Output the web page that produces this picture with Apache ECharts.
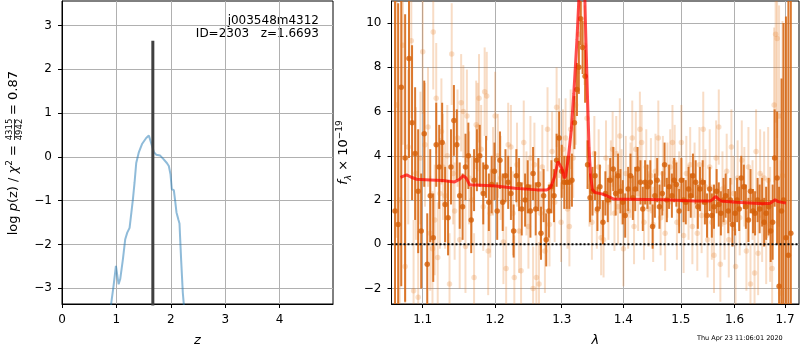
<!DOCTYPE html>
<html>
<head>
<meta charset="utf-8">
<script src="https://cdn.jsdelivr.net/npm/echarts@6/dist/echarts.min.js"></script>
<style>
html,body{margin:0;padding:0;background:#fff}
#chart{width:800px;height:350px}
</style>
</head>
<body>
<div id="chart"></div>
<script>
// redshift panel
var zTicks = [0, 1, 2, 3, 4];
var logpTicks = [-3, -2, -1, 0, 1, 2, 3];
var pzCurve = [
    [0.88, -3.7], [0.905, -3.34], [0.948, -2.94], [0.991, -2.49], [1.040, -2.91], [1.070, -2.79],
    [1.119, -2.34], [1.162, -1.88], [1.199, -1.73], [1.242, -1.62], [1.303, -0.97], [1.333, -0.59],
    [1.364, -0.14], [1.413, 0.11], [1.474, 0.30], [1.547, 0.43], [1.596, 0.49], [1.627, 0.47],
    [1.657, 0.24], [1.688, 0.11], [1.731, 0.05], [1.804, 0.03], [1.865, -0.05], [1.927, -0.14],
    [1.963, -0.21], [1.994, -0.40], [2.018, -0.74], [2.055, -0.76], [2.080, -1.01], [2.104, -1.27],
    [2.141, -1.44], [2.159, -1.52], [2.190, -2.37], [2.220, -3.10], [2.245, -3.47], [2.26, -3.8]
];
var zBest = 1.6693;
var zBestTop = 2.65;

// spectrum panel
var lamTicks = [1.1, 1.2, 1.3, 1.4, 1.5, 1.6, 1.7];
var fluxTicks = [-2, 0, 2, 4, 6, 8, 10];
// [lambda, flux, error]
var darkSpec = [
    [1.064,1.5,12],[1.068,0.9,10],[1.072,7.1,9],[1.077,3.9,6.5],[1.082,8.4,4.5],[1.086,5.5,3.5],
    [1.090,4.1,3],[1.094,2.4,2.8],[1.098,0.6,2.6],[1.102,5.0,2.4],[1.106,-0.9,2.3],[1.110,2.2,2.1],
    [1.114,0.3,2.0],[1.118,4.5,1.9],[1.122,3.5,1.9],[1.126,4.6,1.8],[1.130,1.8,1.7],[1.134,1.2,1.7],
    [1.138,3.5,1.7],[1.142,5.6,1.6],[1.146,4.5,1.6],[1.150,2.2,1.5],[1.154,1.7,1.5],[1.158,3.5,1.5],
    [1.162,4.0,1.5],[1.166,1.1,1.5],[1.170,2.9,1.4],[1.174,3.8,1.4],[1.178,4.0,1.4],[1.183,2.3,1.4],
    [1.187,3.5,1.4],[1.191,1.9,1.3],[1.195,2.7,1.3],[1.199,3.3,1.3],[1.203,1.5,1.3],[1.207,3.8,1.3],
    [1.211,1.9,1.3],[1.215,3.1,1.2],[1.219,2.8,1.2],[1.223,2.3,1.2],[1.227,0.6,1.2],[1.231,3.1,1.2],
    [1.235,2.7,1.2],[1.239,1.6,1.2],[1.244,2.0,1.2],[1.248,2.6,1.2],[1.252,1.5,1.2],[1.256,3.2,1.2],
    [1.260,1.6,1.2],[1.264,2.7,1.2],[1.268,0.5,1.2],[1.272,2.2,1.2],[1.276,0.2,1.2],[1.280,1.5,1.2],
    [1.284,2.6,1.2],[1.288,2.2,1.2],[1.292,3.8,1.2],[1.296,4.8,1.2],[1.300,3.3,1.2],[1.304,2.8,1.2],
    [1.308,2.8,1.2],[1.312,2.8,1.2],[1.316,2.9,1.2],[1.320,5.5,1.2],[1.324,7.0,1.2],[1.327,8.0,1.2],
    [1.330,10.2,1.2],[1.333,8.9,1.2],[1.337,7.6,1.2],[1.341,3.6,1.1],[1.345,2.1,1.1],[1.349,2.4,1.1],
    [1.353,3.1,1.1],[1.357,1.6,1.0],[1.361,2.6,1.0],[1.366,1.0,1.0],[1.370,2.3,1.0],[1.374,2.0,1.0],
    [1.378,2.9,1.0],[1.383,3.4,1.0],[1.387,2.3,1.0],[1.391,3.1,1.0],[1.395,2.4,1.0],[1.399,1.9,1.0],
    [1.403,1.3,1.0],[1.408,2.5,1.0],[1.412,3.1,1.0],[1.416,2.1,1.0],[1.420,2.5,1.0],[1.424,3.4,1.0],
    [1.429,2.8,1.0],[1.433,1.6,1.0],[1.437,2.8,1.0],[1.441,2.6,1.0],[1.446,2.8,1.0],[1.450,0.8,1.0],
    [1.454,2.2,1.0],[1.458,2.9,1.0],[1.462,1.7,1.0],[1.467,2.3,1.0],[1.471,3.6,1.0],[1.475,2.0,1.0],
    [1.479,2.6,1.0],[1.484,2.2,1.0],[1.488,2.9,1.0],[1.492,2.7,1.0],[1.497,1.5,1.0],[1.501,2.9,1.0],
    [1.505,2.0,1.0],[1.509,1.9,1.0],[1.514,2.5,1.0],[1.518,2.2,1.0],[1.522,3.1,1.0],[1.527,2.8,1.0],
    [1.531,1.7,1.0],[1.535,2.5,1.0],[1.540,2.8,1.0],[1.544,1.9,1.0],[1.548,1.3,1.0],[1.553,2.5,1.0],
    [1.557,1.3,1.0],[1.561,1.7,1.0],[1.566,2.4,1.0],[1.570,1.8,1.0],[1.574,1.4,1.0],[1.579,2.0,1.0],
    [1.583,2.2,1.0],[1.588,1.5,1.0],[1.592,2.0,1.0],[1.596,0.9,1.0],[1.601,1.4,1.0],[1.605,2.0,1.0],
    [1.609,1.6,1.0],[1.613,3.0,1.0],[1.618,2.6,1.0],[1.622,1.7,1.0],[1.627,1.1,1.0],[1.631,2.4,1.0],
    [1.636,1.5,1.0],[1.640,1.4,1.0],[1.645,2.0,1.0],[1.649,1.6,1.1],[1.654,1.9,1.1],[1.658,1.0,1.1],
    [1.662,1.4,1.2],[1.667,1.7,1.3],[1.671,0.6,1.4],[1.675,1.0,1.7],[1.679,3.9,2.2],[1.684,3.0,3.0],
    [1.688,-1.9,4.5],[1.693,1.5,6],[1.697,2.0,8],[1.702,0.3,10],[1.707,-0.5,12],[1.712,0.5,14]
];
var lightSpec = [
    [1.066,6.3,6],[1.070,2.0,5],[1.074,9.0,4.5],[1.077,-1.0,4],[1.081,4.4,3.5],[1.085,9.2,3.5],
    [1.088,-2.1,3.2],[1.091,3.2,3],[1.094,-2.4,3],[1.097,3.9,3],[1.100,8.7,2.8],[1.103,4.5,2.8],
    [1.107,5.3,2.7],[1.110,0.5,2.6],[1.113,-0.2,2.6],[1.114,9.6,2.6],[1.116,1.1,2.5],[1.118,6.6,2.5],
    [1.120,-0.6,2.5],[1.123,2.3,2.5],[1.125,5.1,2.4],[1.127,3.5,2.4],[1.130,2.2,2.4],[1.133,4.0,2.3],
    [1.136,-1.8,2.3],[1.139,8.6,2.3],[1.141,3.2,2.3],[1.143,1.5,2.2],[1.147,4.8,2.2],[1.150,0.2,2.2],
    [1.152,6.4,2.2],[1.155,6.0,2.1],[1.158,-0.1,2.1],[1.160,5.8,2.1],[1.163,3.0,2.1],[1.167,2.0,2.0],
    [1.170,-1.5,2.0],[1.173,5.4,2.0],[1.175,5.3,2.0],[1.177,6.6,2.0],[1.180,4.3,2.0],[1.183,1.7,2.0],
    [1.185,6.9,2.0],[1.188,6.7,2.0],[1.190,-0.3,2.0],[1.193,1.4,2.0],[1.197,3.3,2.0],[1.200,5.8,2.0],
    [1.204,4.0,1.9],[1.208,3.0,1.9],[1.212,0.1,1.9],[1.216,-1.1,1.9],[1.219,4.5,1.9],[1.223,4.4,1.9],
    [1.226,1.4,1.9],[1.228,-1.5,1.9],[1.232,3.6,1.9],[1.235,0.6,1.9],[1.238,-1.2,1.9],[1.242,4.6,1.9],
    [1.246,2.3,1.9],[1.249,0.8,1.9],[1.252,3.9,1.9],[1.256,-2.0,1.9],[1.258,3.6,1.9],[1.261,-1.5,1.9],
    [1.265,-1.8,1.9],[1.267,1.4,1.9],[1.270,3.5,1.9],[1.274,-0.3,1.9],[1.278,5.2,1.9],[1.281,0.9,1.9],
    [1.285,4.2,1.8],[1.289,1.9,1.8],[1.292,6.2,1.8],[1.296,4.8,1.8],[1.299,1.0,1.8],[1.302,4.3,1.8],
    [1.306,4.8,1.8],[1.309,1.6,1.8],[1.312,0.8,1.8],[1.314,5.2,1.8],[1.318,3.9,1.8],[1.322,6.3,1.8],
    [1.327,9.5,1.8],[1.331,11.5,1.8],[1.336,9.0,1.8],[1.340,5.7,1.8],[1.344,2.6,1.8],[1.348,1.0,1.7],
    [1.352,4.1,1.7],[1.356,1.5,1.7],[1.359,3.5,1.7],[1.363,0.3,1.7],[1.367,0.2,1.7],[1.371,3.9,1.7],
    [1.375,1.9,1.7],[1.379,3.0,1.7],[1.382,4.3,1.7],[1.385,1.4,1.7],[1.388,4.1,1.7],[1.391,1.7,1.7],
    [1.394,4.9,1.7],[1.397,2.6,1.7],[1.400,-0.2,1.7],[1.404,3.2,1.7],[1.408,1.5,1.7],[1.412,2.9,1.7],
    [1.415,4.8,1.7],[1.418,0.8,1.7],[1.421,4.3,1.7],[1.425,2.3,1.7],[1.428,5.2,1.7],[1.431,4.6,1.7],
    [1.435,1.0,1.7],[1.439,3.5,1.7],[1.443,1.6,1.7],[1.447,3.1,1.7],[1.451,0.9,1.7],[1.455,3.3,1.7],
    [1.460,4.8,1.7],[1.464,1.2,1.7],[1.468,3.2,1.7],[1.472,0.5,1.7],[1.476,2.9,1.7],[1.481,3.5,1.7],
    [1.485,4.6,1.7],[1.489,3.7,1.7],[1.493,1.0,1.7],[1.497,2.5,1.7],[1.501,4.6,1.7],[1.505,0.4,1.7],
    [1.510,3.2,1.7],[1.514,1.9,1.7],[1.517,3.6,1.7],[1.521,0.8,1.7],[1.525,2.9,1.7],[1.530,0.5,1.7],
    [1.534,3.6,1.7],[1.538,1.3,1.7],[1.541,5.2,1.7],[1.545,2.6,1.7],[1.549,0.2,1.7],[1.553,3.5,1.7],
    [1.557,1.0,1.7],[1.561,-0.5,1.7],[1.565,3.9,1.7],[1.570,5.3,1.7],[1.573,-0.9,1.7],[1.577,2.5,1.7],
    [1.581,1.0,1.7],[1.585,3.3,1.7],[1.589,0.2,1.7],[1.594,4.4,1.7],[1.598,2.3,1.7],[1.602,-1.0,1.7],
    [1.606,3.0,1.7],[1.610,1.2,1.7],[1.614,3.8,1.8],[1.619,2.6,1.8],[1.623,-0.3,1.8],[1.627,3.5,1.8],
    [1.631,-1.8,1.8],[1.635,2.0,1.8],[1.639,-1.3,1.9],[1.642,4.2,1.9],[1.646,-0.4,1.9],[1.650,3.2,2.0],
    [1.654,1.2,2.0],[1.658,3.0,2.1],[1.662,0.4,2.2],[1.666,2.9,2.4],[1.670,0.9,2.6],[1.674,-1.1,3],
    [1.678,6.3,3.5],[1.681,9.5,4],[1.684,9.3,4.5],[1.688,5.8,5],[1.691,-2.2,6],[1.695,3.1,7]
];
var modelCurve = [
    [1.071,3.02],[1.079,3.14],[1.085,3.03],[1.092,2.94],[1.110,2.91],[1.127,2.88],[1.143,2.82],
    [1.150,2.94],[1.155,3.11],[1.159,2.99],[1.164,2.68],[1.173,2.68],[1.201,2.64],[1.229,2.53],
    [1.262,2.46],[1.277,2.46],[1.283,2.58],[1.289,3.06],[1.294,3.74],[1.297,3.82],[1.300,3.44],
    [1.304,2.99],[1.306,3.09],[1.310,3.82],[1.315,5.17],[1.319,6.83],[1.324,9.25],[1.327,11.06],
    [1.330,13.0],[1.333,13.5],[1.336,11.8],[1.338,9.55],[1.341,6.53],[1.3435,4.27],[1.346,3.06],
    [1.349,2.46],[1.353,2.34],[1.364,2.28],[1.375,2.16],[1.383,2.05],[1.411,2.04],[1.469,2.01],
    [1.525,1.96],[1.554,1.96],[1.559,2.04],[1.564,2.16],[1.568,2.08],[1.574,1.96],[1.603,1.90],
    [1.656,1.83],[1.670,1.86],[1.680,2.01],[1.686,1.93],[1.702,1.86]
];
var lamMin = 1.0595, lamMax = 1.7289;

var FONT = 'DejaVu Sans';
function minus(v) {
    return v < 0 ? '\u2212' + (-v) : '' + v;
}
function errBars(color) {
    return function (params, api) {
        var lam = api.value(0), f = api.value(1), e = api.value(2);
        var p1 = api.coord([lam, f - e]);
        var p2 = api.coord([lam, f + e]);
        return {
            type: 'line',
            shape: {x1: p1[0], y1: p1[1], x2: p2[0], y2: p2[1]},
            style: {stroke: color, lineWidth: 2}
        };
    };
}
function axisBase(ticks, fmt) {
    return {
        axisLine: {show: true, onZero: false, lineStyle: {color: '#000', width: 1}},
        axisTick: {show: true, length: 4, customValues: ticks, lineStyle: {color: '#000'}},
        axisLabel: {customValues: ticks, color: '#000', fontFamily: FONT, fontSize: 12, margin: 10, formatter: fmt},
        splitLine: {show: true, lineStyle: {color: '#b0b0b0', width: 1}}
    };
}

var myChart = echarts.init(document.getElementById('chart'));

var xz = axisBase(zTicks, minus);
xz.type = 'value'; xz.gridIndex = 0; xz.min = 0; xz.max = 4.98;
xz.name = 'z'; xz.nameLocation = 'middle'; xz.nameGap = 30;
xz.nameTextStyle = {fontFamily: FONT, fontStyle: 'italic', fontSize: 13, color: '#000'};

var yz = axisBase(logpTicks, minus);
yz.type = 'value'; yz.gridIndex = 0; yz.min = -3.36; yz.max = 3.56;

var xl = axisBase(lamTicks, function (v) { return v.toFixed(1); });
xl.type = 'log'; xl.logBase = 10; xl.gridIndex = 1; xl.min = lamMin; xl.max = lamMax;
xl.name = '\u03bb'; xl.nameLocation = 'middle'; xl.nameGap = 30;
xl.nameTextStyle = {fontFamily: FONT, fontStyle: 'italic', fontSize: 13, color: '#000'};

var yl = axisBase(fluxTicks, minus);
yl.type = 'value'; yl.gridIndex = 1; yl.min = -2.7; yl.max = 11;
yl.name = '{i|f}{sub|\u03bb}{n| \u00d7 10}{sup|\u221219}';
yl.nameLocation = 'middle'; yl.nameRotate = 90; yl.nameGap = 38;
yl.nameTextStyle = {
    fontFamily: FONT, fontSize: 13, color: '#000',
    rich: {
        i: {fontFamily: FONT, fontStyle: 'italic', fontSize: 13, color: '#000', lineHeight: 18},
        sub: {fontFamily: FONT, fontStyle: 'italic', fontSize: 9, color: '#000', verticalAlign: 'bottom', lineHeight: 18},
        n: {fontFamily: FONT, fontSize: 13, color: '#000', lineHeight: 18},
        sup: {fontFamily: FONT, fontSize: 9, color: '#000', verticalAlign: 'top', lineHeight: 18}
    }
};

option = {
    animation: false,
    backgroundColor: '#fff',
    grid: [
        {left: 62, top: 1, width: 271, height: 303, outerBoundsMode: 'none',
            show: true, borderColor: '#000', borderWidth: 1, backgroundColor: 'transparent'},
        {left: 391.5, top: 1, width: 407.5, height: 303, outerBoundsMode: 'none',
            show: true, borderColor: '#000', borderWidth: 1, backgroundColor: 'transparent'}
    ],
    xAxis: [xz, xl],
    yAxis: [yz, yl],
    graphic: [
        {
            type: 'group', x: 14, y: 163, rotation: Math.PI / 2,
            children: [
                {type: 'text', x: 18, y: 0, style: {
                    text: '{n|log }{i|p}{n|(z) / }{i|\u03c7}{s|2}{n| =}',
                    align: 'right', verticalAlign: 'middle', textAlign: 'right', textVerticalAlign: 'middle',
                    rich: {
                        n: {fontFamily: FONT, fontSize: 13, fill: '#000', lineHeight: 18},
                        i: {fontFamily: FONT, fontStyle: 'italic', fontSize: 13, fill: '#000', lineHeight: 18},
                        s: {fontFamily: FONT, fontSize: 9, fill: '#000', verticalAlign: 'top', lineHeight: 18}
                    }
                }},
                {type: 'text', x: 33.5, y: -4, style: {text: '4315', fontFamily: FONT, fontSize: 8.5, fill: '#000',
                    align: 'center', verticalAlign: 'middle', textAlign: 'center', textVerticalAlign: 'middle'}},
                {type: 'line', shape: {x1: 23, y1: 0.5, x2: 44, y2: 0.5}, style: {stroke: '#000', lineWidth: 0.8}},
                {type: 'text', x: 33.5, y: 5.5, style: {text: '4942', fontFamily: FONT, fontSize: 8.5, fill: '#000',
                    align: 'center', verticalAlign: 'middle', textAlign: 'center', textVerticalAlign: 'middle'}},
                {type: 'text', x: 48, y: 0, style: {text: '= 0.87', fontFamily: FONT, fontSize: 13, fill: '#000',
                    align: 'left', verticalAlign: 'middle', textAlign: 'left', textVerticalAlign: 'middle'}}
            ]
        },
        {type: 'text', right: 481, top: 15, style: {text: 'j003548m4312', fontFamily: FONT, fontSize: 12, fill: '#000'}},
        {type: 'text', right: 481, top: 28, style: {text: 'ID=2303   z=1.6693', fontFamily: FONT, fontSize: 12, fill: '#000'}},
        {type: 'text', left: 697, top: 335, style: {text: 'Thu Apr 23 11:06:01 2020', fontFamily: FONT, fontSize: 6.5, fill: '#000'}}
    ],
    series: [
        {
            type: 'line', xAxisIndex: 0, yAxisIndex: 0, data: pzCurve,
            showSymbol: false, clip: true,
            lineStyle: {color: 'rgba(31,119,180,0.5)', width: 2}
        },
        {
            type: 'line', xAxisIndex: 0, yAxisIndex: 0,
            data: [[zBest, -4], [zBest, zBestTop]],
            showSymbol: false, clip: true,
            lineStyle: {color: '#404040', width: 3}
        },
        {
            type: 'custom', xAxisIndex: 1, yAxisIndex: 1, data: lightSpec, clip: true,
            encode: {x: 0, y: 1},
            renderItem: errBars('rgba(230,126,40,0.27)')
        },
        {
            type: 'scatter', xAxisIndex: 1, yAxisIndex: 1, data: lightSpec, clip: true,
            symbolSize: 5.5, itemStyle: {color: 'rgba(230,126,40,0.3)'}
        },
        {
            type: 'custom', xAxisIndex: 1, yAxisIndex: 1, data: darkSpec, clip: true,
            encode: {x: 0, y: 1},
            renderItem: errBars('rgba(214,103,18,0.88)')
        },
        {
            type: 'scatter', xAxisIndex: 1, yAxisIndex: 1, data: darkSpec, clip: true,
            symbolSize: 5.5, itemStyle: {color: '#d45f08'}
        },
        {
            type: 'line', xAxisIndex: 1, yAxisIndex: 1, data: [[lamMin, 0], [lamMax, 0]],
            showSymbol: false, clip: true,
            lineStyle: {color: '#000', width: 2, type: [2, 2]}
        },
        {
            type: 'line', xAxisIndex: 1, yAxisIndex: 1, data: modelCurve,
            showSymbol: false, clip: true,
            lineStyle: {color: 'rgba(255,0,0,0.7)', width: 3}
        }
    ]
};
myChart.setOption(option);
</script>
</body>
</html>
